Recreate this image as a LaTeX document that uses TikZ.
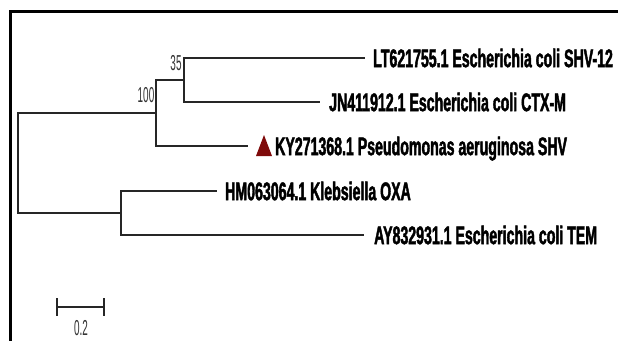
\documentclass[tikz,border=0pt]{standalone}
\usepackage{fontspec}
\setmainfont{Liberation Sans}
\newfontfamily\labfont{Liberation Sans}[FakeStretch=0.555, BoldFeatures={FakeStretch=0.555, FakeBold=1.6}]
\newfontfamily\numfont{Liberation Sans}[FakeStretch=0.46]
\definecolor{tri}{HTML}{7F0A0A}
\tikzset{
  branch/.style={line width=1.3pt, black!85, line cap=rect},
  frameline/.style={line width=2.7pt, black},
  leaf/.style={anchor=west, inner sep=0pt, text height=18.3pt, text depth=0pt,
    font=\labfont\bfseries\fontsize{25.5}{25.5}\selectfont},
  boot/.style={inner sep=0pt, text height=15.5pt, text depth=0pt, black!80,
    font=\numfont\fontsize{21.6}{21.6}\selectfont}
}
\begin{document}
\begin{tikzpicture}[x=1pt,y=-1pt]
\useasboundingbox (0,0) rectangle (618,341);
\fill[white] (0,0) rectangle (618,341);
% frame
\coordinate (fTL) at (10.3,11.5);
\coordinate (fTR) at (618,11.5);
\coordinate (fBL) at (10.3,341);
\draw[frameline] (fTR) -- (fTL) -- (fBL);
% internal nodes
\coordinate (root) at (18,163);
\coordinate (nA) at (156,113);
\coordinate (n35) at (184,80);
\coordinate (nB) at (121,213);
% leaf branch ends
\coordinate (eLT) at (364,58);
\coordinate (eJN) at (319,102);
\coordinate (eKY) at (247,146);
\coordinate (eHM) at (216,191);
\coordinate (eAY) at (363,235);
% tree
\draw[branch] (18,113) -- (18,213);
\draw[branch] (18,113) -- (nA);
\draw[branch] (18,213) -- (nB);
\draw[branch] (156,80) -- (156,146);
\draw[branch] (156,80) -- (n35);
\draw[branch] (184,58) -- (184,102);
\draw[branch] (184,58) -- (eLT);
\draw[branch] (184,102) -- (eJN);
\draw[branch] (156,146) -- (eKY);
\draw[branch] (121,191) -- (121,235);
\draw[branch] (121,191) -- (eHM);
\draw[branch] (121,235) -- (eAY);
% labels
\node[leaf] (LT) at (373,58) {LT621755.1 Escherichia coli SHV-12};
\node[leaf] (JN) at (329,102) {JN411912.1 Escherichia coli CTX-M};
\node[leaf] (KY) at (275,146) {KY271368.1 Pseudomonas aeruginosa SHV};
\node[leaf] (HM) at (225,191) {HM063064.1 Klebsiella OXA};
\node[leaf] (AY) at (374,235) {AY832931.1 Escherichia coli TEM};
% triangle marker
\fill[tri] (256,156) -- (264,135) -- (272,156) -- cycle;
% bootstrap values
\node[boot] (b100) at (146,95) {100};
\node[boot] (b35) at (176,63) {35};
% scale bar
\coordinate (sL) at (57,307);
\coordinate (sR) at (104,307);
\draw[branch, line width=1.1pt] (sL) -- (sR);
\draw[branch, line width=1.1pt] (57,299) -- (57,315);
\draw[branch, line width=1.1pt] (104,299) -- (104,315);
\node[boot] (sc) at (81,328) {0.2};
\end{tikzpicture}
\end{document}
